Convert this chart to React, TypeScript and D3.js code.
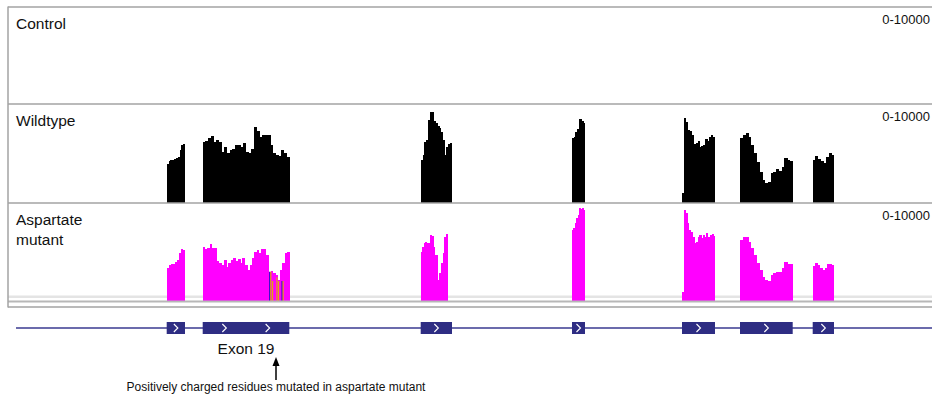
import { useEffect, useRef } from 'react';
import * as d3 from 'd3';

const width = 932;
const height = 398;

// genomic window shown (bp, relative)
const regionStart = 0;
const regionEnd = 9240;
const geneStart = 80;

const exonStarts = [1587, 1947, 4127, 5640, 6740, 7320, 8047];
const exonEnds = [1770, 2813, 4440, 5770, 7070, 7847, 8260];

// read depth per exon, samples evenly spread over each exon
const wildtypeCoverage = [
  [3939, 4242, 4343, 4343, 4444, 4545, 4646, 5354, 5859, 5960],
  [6192, 6293, 6535, 6768, 6192, 6364, 6192, 5182, 5687, 5020, 5354, 5424, 5859, 5859, 5687, 6091,
    5182, 5020, 5424, 7646, 7303, 6697, 6869, 6869, 6869, 5859, 5020, 4848, 4747, 5354, 5020, 4677],
  [4343, 4848, 6192, 6364, 8384, 9162, 9162, 8313, 8051, 7778, 7545, 7202, 6364, 4848, 5687, 5960, 6030],
  [6535, 6697, 7202, 7444, 8455, 8455, 8313, 8111],
  [980, 8556, 8212, 7374, 7273, 6869, 5929, 6030, 6293, 5687, 5788, 5859, 6434, 6293, 6697, 6869, 6697],
  [6535, 6869, 7040, 6697, 5859, 5020, 4172, 3162, 2323, 2051, 2152, 3000, 3162, 3404, 3263, 3667,
    4515, 4343, 4273],
  [4343, 4747, 4414, 4242, 4071, 4677, 5081, 4848],
];

const aspartateCoverage = [
  [3337, 3673, 3745, 3776, 4010, 4184, 4867, 5276, 5204],
  [5480, 5276, 5378, 5786, 5378, 5378, 4082, 3847, 3673, 4184, 3500, 3847, 4184, 4357, 4112, 4255,
    3908, 4357, 3673, 3163, 3673, 4357, 4969, 5204, 4929, 5276, 5276, 4694, 2990, 3092, 2827, 2653,
    2143, 3163, 3847, 4867, 5031],
  [5031, 5541, 5888, 6051, 5960, 5888, 6735, 6633, 5541, 4694, 4694, 0, 0, 0, 2143, 2827, 3847,
    4867, 6561, 6806],
  [7245, 7418, 7929, 8439, 8776, 9459, 9357, 9459, 9286],
  [949, 9286, 8949, 7929, 7245, 7071, 6561, 5888, 6051, 6500, 6735, 6398, 6735, 6500, 6908, 6500,
    6735, 6837, 6633],
  [6224, 6500, 6500, 6051, 5378, 4694, 3847, 3163, 2480, 2143, 2071, 2653, 2827, 2990, 2929, 3337,
    4010, 3776, 3745],
  [3571, 3847, 3673, 3337, 3163, 3337, 3745, 3776, 3673],
];

// mismatched bases in the aspartate mutant reads
const mismatchPos = [2612, 2622, 2640, 2683, 2700, 2735, 2745];
const mismatchDepth = [2990, 2990, 2041, 2418, 2041, 2041, 2041];
const mismatchBase = ['C', 'G', 'G', 'G', 'G', 'C', 'G'];

const trackNames = [['Control'], ['Wildtype'], ['Aspartate', 'mutant']];
const trackRange = '0-10000';
const labelledExon = 1;
const exonLabel = 'Exon 19';
const arrowPos = 2680;
const annotation = 'Positively charged residues mutated in aspartate mutant';

const App = () => {
  const svgRef = useRef(null);

  useEffect(() => {
    const font = '"Liberation Sans", Arial, sans-serif';
    const grey = '#a3a3a3';
    const navy = '#2e2d83';
    const left = 8;

    const svg = d3.select(svgRef.current);
    svg.selectAll('*').remove();

    const x = d3.scaleLinear([regionStart, regionEnd], [left, width]);

    const tracks = [
      { top: 7, bottom: 104, data: null, color: '#000' },
      { top: 104, bottom: 203, data: wildtypeCoverage, color: '#000' },
      { top: 203, bottom: 301, data: aspartateCoverage, color: '#ff00ff' },
    ];

    // light band at the foot of the mutant track
    svg.append('rect')
      .attr('x', left).attr('y', 295.5).attr('width', width - left).attr('height', 2.5)
      .attr('fill', '#e4e4e4');

    tracks.forEach((t, ti) => {
      const y = d3.scaleLinear([0, 10000], [t.bottom, t.top]);
      const g = svg.append('g');

      if (t.data) {
        t.data.forEach((vals, ei) => {
          const x0 = x(exonStarts[ei]);
          const w = (x(exonEnds[ei]) - x0) / vals.length;
          g.selectAll(null)
            .data(vals)
            .join('rect')
            .filter((d) => d > 0)
            .attr('x', (d, i) => x0 + i * w)
            .attr('width', w + 0.4)
            .attr('y', (d) => y(d))
            .attr('height', (d) => t.bottom - y(d))
            .attr('fill', t.color)
            .attr('shape-rendering', 'crispEdges');
        });
      }

      if (ti === 2) {
        g.selectAll(null)
          .data(mismatchPos)
          .join('rect')
          .attr('x', (d) => x(d))
          .attr('width', 1.2)
          .attr('y', (d, i) => y(mismatchDepth[i]))
          .attr('height', (d, i) => t.bottom - y(mismatchDepth[i]))
          .attr('fill', (d, i) => (mismatchBase[i] === 'C' ? '#1010c8' : '#e8a010'));
      }

      // name + data range
      const name = g.append('text')
        .attr('x', 16)
        .attr('y', t.top + 22)
        .attr('font-family', font)
        .attr('font-size', 15.5)
        .attr('fill', '#111');
      trackNames[ti].forEach((s, i) => {
        name.append('tspan').attr('x', 16).attr('dy', i === 0 ? 0 : 19.5).text(s);
      });

      g.append('text')
        .attr('x', width - 2)
        .attr('y', t.top + 17)
        .attr('text-anchor', 'end')
        .attr('font-family', font)
        .attr('font-size', 13)
        .attr('fill', '#111')
        .text(trackRange);

      // separator on top of each track
      svg.append('line')
        .attr('x1', left).attr('x2', width)
        .attr('y1', t.top).attr('y2', t.top)
        .attr('stroke', grey).attr('stroke-width', 1.5);
    });

    svg.append('line')
      .attr('x1', left).attr('x2', width).attr('y1', 301.5).attr('y2', 301.5)
      .attr('stroke', '#b8b8b8').attr('stroke-width', 2);
    svg.append('line')
      .attr('x1', left).attr('x2', width).attr('y1', 307).attr('y2', 307)
      .attr('stroke', grey).attr('stroke-width', 1.5);
    svg.append('line')
      .attr('x1', left).attr('x2', left).attr('y1', 6.5).attr('y2', 307.5)
      .attr('stroke', grey).attr('stroke-width', 1.5);

    // gene model
    const geneY = 328;
    svg.append('line')
      .attr('x1', x(geneStart)).attr('x2', width)
      .attr('y1', geneY).attr('y2', geneY)
      .attr('stroke', '#3a3a90').attr('stroke-width', 1.3);

    exonStarts.forEach((s, i) => {
      const x0 = x(s);
      const x1 = x(exonEnds[i]);
      svg.append('rect')
        .attr('x', x0).attr('y', geneY - 6)
        .attr('width', x1 - x0).attr('height', 12)
        .attr('fill', navy);
      const n = Math.max(1, Math.floor((x1 - x0) / 40));
      d3.range(n).forEach((k) => {
        const cx = x0 + ((k + 0.5) * (x1 - x0)) / n;
        svg.append('path')
          .attr('d', `M${cx - 2},${geneY - 4}L${cx + 2},${geneY}L${cx - 2},${geneY + 4}`)
          .attr('fill', 'none')
          .attr('stroke', '#fff')
          .attr('stroke-width', 1.1);
      });
    });

    const ex = (x(exonStarts[labelledExon]) + x(exonEnds[labelledExon])) / 2;
    svg.append('text')
      .attr('x', ex).attr('y', 354)
      .attr('text-anchor', 'middle')
      .attr('font-family', font).attr('font-size', 15.5)
      .attr('fill', '#111')
      .text(exonLabel);

    // arrow to the mutated residues
    const ax = x(arrowPos);
    svg.append('line')
      .attr('x1', ax).attr('x2', ax).attr('y1', 380).attr('y2', 364)
      .attr('stroke', '#000').attr('stroke-width', 1.5);
    svg.append('path')
      .attr('d', `M${ax},${357}L${ax + 3.5},${366}L${ax - 3.5},${366}Z`)
      .attr('fill', '#000');
    svg.append('text')
      .attr('x', ax).attr('y', 390.5)
      .attr('text-anchor', 'middle')
      .attr('font-family', font).attr('font-size', 12)
      .attr('fill', '#111')
      .text(annotation);
  }, []);

  return (
    <svg
      ref={svgRef}
      width={width}
      height={height}
      style={{ position: 'absolute', left: 0, top: 0, background: '#fff' }}
    ></svg>
  );
};

export default App;
